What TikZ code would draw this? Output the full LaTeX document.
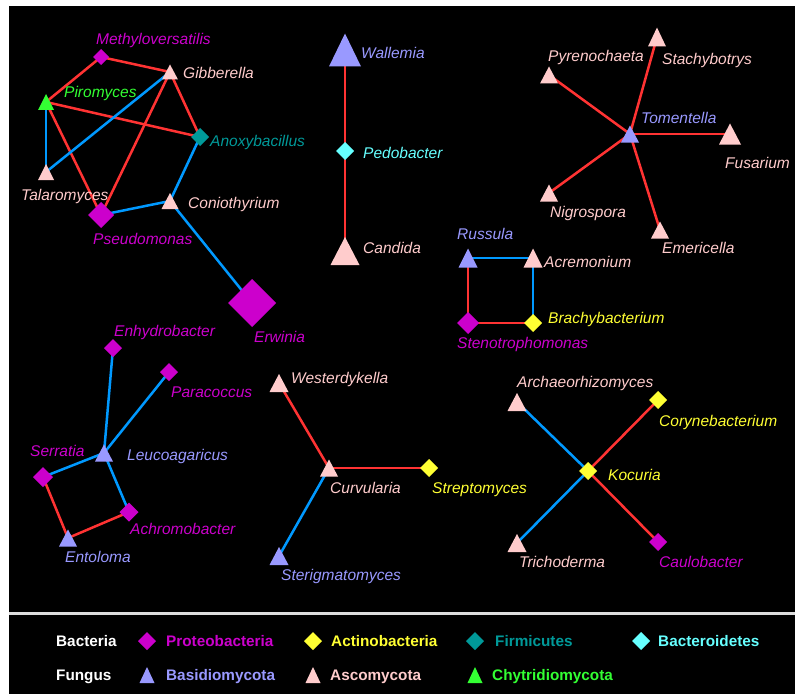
\documentclass[tikz,border=0pt]{standalone}
\usepackage{fontspec}
\setmainfont{Liberation Sans}
\usetikzlibrary{shapes.geometric}
\pgfdeclarelayer{back}
\pgfdeclarelayer{edges}
\pgfsetlayers{back,edges,main}
\definecolor{proteo}{HTML}{CC00CC}
\definecolor{actino}{HTML}{FFFF33}
\definecolor{firmi}{HTML}{009999}
\definecolor{bactero}{HTML}{66FFFF}
\definecolor{basidio}{HTML}{9999FF}
\definecolor{asco}{HTML}{FFCCCC}
\definecolor{chytri}{HTML}{33FF33}
\definecolor{posedge}{HTML}{FF3333}
\definecolor{negedge}{HTML}{0099FF}
\definecolor{sepline}{HTML}{DDDDDD}
\tikzset{
  dia/.style 2 args={diamond, aspect=1, fill=#2, draw=none, inner sep=0pt, outer sep=0pt,
     minimum width=#1*2bp, minimum height=#1*2bp},
  tri/.style n args={3}{rectangle, draw=none, inner sep=0pt, outer sep=0pt,
     minimum width=#1 bp, minimum height=#2 bp,
     path picture={\fill[#3] (path picture bounding box.south west) -- (path picture bounding box.south east) -- (path picture bounding box.north) -- cycle;}},
  lab/.style={anchor=base west, inner sep=0pt, text=#1,
     font=\fontsize{15.5bp}{18bp}\selectfont\itshape},
  leg/.style={anchor=base west, inner sep=0pt, text=#1,
     font=\fontsize{15.3bp}{18bp}\selectfont\bfseries},
  posline/.style={draw=posedge, line width=2.5bp},
  negline/.style={draw=negedge, line width=2.5bp},
}
\begin{document}
\begin{tikzpicture}[x=1bp,y=-1bp]
\begin{pgfonlayer}{back}
\fill[white] (0,0) rectangle (795,694);
\fill[black] (9,6) rectangle (795,694);
\fill[sepline] (9,612) rectangle (795,615);
\end{pgfonlayer}
\useasboundingbox (0,0) rectangle (795,694);

% ---------- top-left cluster ----------
\node[dia={8}{proteo}] (methy) at (101,57) {};
\node[tri={16}{15}{asco}] (gibb) at (170,72) {};
\node[tri={16}{16}{chytri}] (piro) at (46,102) {};
\node[dia={9}{firmi}] (anoxy) at (200,137) {};
\node[tri={16}{16}{asco}] (talaro) at (46,172) {};
\node[tri={17}{16}{asco}] (conio) at (170,201) {};
\node[dia={13}{proteo}] (pseudo) at (101,215) {};
\node[dia={24}{proteo}] (erwin) at (252,303) {};

\node[lab=proteo] (methy-l) at (96,44.5) {Methyloversatilis};
\node[lab=asco] (gibb-l) at (183,78.5) {Gibberella};
\node[lab=chytri] (piro-l) at (64,97.5) {Piromyces};
\node[lab=firmi] (anoxy-l) at (210,146.5) {Anoxybacillus};
\node[lab=asco] (talaro-l) at (21,200.5) {Talaromyces};
\node[lab=asco] (conio-l) at (188,208.5) {Coniothyrium};
\node[lab=proteo] (pseudo-l) at (93,244.5) {Pseudomonas};
\node[lab=proteo] (erwin-l) at (254,342.5) {Erwinia};

% ---------- top-middle ----------
\node[tri={32}{33}{basidio}] (wall) at (345,50) {};
\node[dia={9}{bactero}] (pedo) at (345,151) {};
\node[tri={29}{28}{asco}] (cand) at (345,251) {};
\node[lab=basidio] (wall-l) at (361,58.5) {Wallemia};
\node[lab=bactero] (pedo-l) at (363,158.5) {Pedobacter};
\node[lab=asco] (cand-l) at (363,253.5) {Candida};

% ---------- top-right star ----------
\node[tri={18}{17}{basidio}] (toment) at (630,134) {};
\node[tri={18}{19}{asco}] (stachy) at (657,37) {};
\node[tri={18}{17}{asco}] (pyreno) at (549,75) {};
\node[tri={22}{21}{asco}] (fusar) at (730,134) {};
\node[tri={18}{17}{asco}] (nigro) at (549,193) {};
\node[tri={18}{17}{asco}] (emeri) at (660,230) {};
\node[lab=basidio] (toment-l) at (641,123.5) {Tomentella};
\node[lab=asco] (stachy-l) at (662,64.5) {Stachybotrys};
\node[lab=asco] (pyreno-l) at (548,61.5) {Pyrenochaeta};
\node[lab=asco] (fusar-l) at (725,168.5) {Fusarium};
\node[lab=asco] (nigro-l) at (550,217.5) {Nigrospora};
\node[lab=asco] (emeri-l) at (662,253.5) {Emericella};

% ---------- middle-right square ----------
\node[tri={19}{19}{basidio}] (russ) at (468,258) {};
\node[tri={19}{19}{asco}] (acrem) at (533,258) {};
\node[dia={11}{proteo}] (steno) at (468,323) {};
\node[dia={9}{actino}] (brachy) at (533,323) {};
\node[lab=basidio] (russ-l) at (457,239.5) {Russula};
\node[lab=asco] (acrem-l) at (544,267.5) {Acremonium};
\node[lab=proteo] (steno-l) at (457,348.5) {Stenotrophomonas};
\node[lab=actino] (brachy-l) at (548,323.5) {Brachybacterium};

% ---------- bottom-left ----------
\node[dia={9}{proteo}] (enhy) at (113,348) {};
\node[dia={9}{proteo}] (parac) at (169,372) {};
\node[tri={18}{17}{basidio}] (leuco) at (104,453) {};
\node[dia={10}{proteo}] (serra) at (43,477) {};
\node[dia={9.5}{proteo}] (achro) at (129,512) {};
\node[tri={18}{17}{basidio}] (entol) at (68,538) {};
\node[lab=proteo] (enhy-l) at (114,336.5) {Enhydrobacter};
\node[lab=proteo] (parac-l) at (171,397.5) {Paracoccus};
\node[lab=basidio] (leuco-l) at (127,460.5) {Leucoagaricus};
\node[lab=proteo] (serra-l) at (30,456.5) {Serratia};
\node[lab=proteo] (achro-l) at (130,534.5) {Achromobacter};
\node[lab=basidio] (entol-l) at (65,562.5) {Entoloma};

% ---------- bottom-middle ----------
\node[tri={19}{18}{asco}] (weste) at (279,383) {};
\node[tri={18}{17}{asco}] (curvu) at (329,468) {};
\node[dia={9}{actino}] (strep) at (429,468) {};
\node[tri={19}{18}{basidio}] (sterig) at (279,556) {};
\node[lab=asco] (weste-l) at (291,383.5) {Westerdykella};
\node[lab=asco] (curvu-l) at (330,493.5) {Curvularia};
\node[lab=actino] (strep-l) at (432,493.5) {Streptomyces};
\node[lab=basidio] (sterig-l) at (281,580.5) {Sterigmatomyces};

% ---------- bottom-right ----------
\node[dia={9}{actino}] (kocu) at (588,471) {};
\node[tri={19}{18}{asco}] (archae) at (517,402) {};
\node[dia={9}{actino}] (coryne) at (658,400) {};
\node[tri={19}{18}{asco}] (tricho) at (517,543) {};
\node[dia={9}{proteo}] (caulo) at (658,542) {};
\node[lab=asco] (archae-l) at (517,387.5) {Archaeorhizomyces};
\node[lab=actino] (coryne-l) at (659,426.5) {Corynebacterium};
\node[lab=actino] (kocu-l) at (608,480.5) {Kocuria};
\node[lab=asco] (tricho-l) at (519,567.5) {Trichoderma};
\node[lab=proteo] (caulo-l) at (659,567.5) {Caulobacter};

% ---------- edges ----------
\begin{pgfonlayer}{edges}
\draw[posline] (methy.center) -- (gibb.center);
\draw[posline] (methy.center) -- (piro.center);
\draw[posline] (piro.center) -- (anoxy.center);
\draw[negline] (piro.center) -- (talaro.center);
\draw[posline] (piro.center) -- (pseudo.center);
\draw[negline] (gibb.center) -- (talaro.center);
\draw[posline] (gibb.center) -- (pseudo.center);
\draw[posline] (gibb.center) -- (anoxy.center);
\draw[negline] (anoxy.center) -- (conio.center);
\draw[negline] (conio.center) -- (pseudo.center);
\draw[negline] (conio.center) -- (erwin.center);

\draw[posline] (wall.center) -- (pedo.center);
\draw[posline] (pedo.center) -- (cand.center);

\draw[posline] (toment.center) -- (stachy.center);
\draw[posline] (toment.center) -- (pyreno.center);
\draw[posline] (toment.center) -- (fusar.center);
\draw[posline] (toment.center) -- (nigro.center);
\draw[posline] (toment.center) -- (emeri.center);

\draw[negline] (russ.center) -- (acrem.center);
\draw[negline] (acrem.center) -- (brachy.center);
\draw[posline] (russ.center) -- (steno.center);
\draw[posline] (steno.center) -- (brachy.center);

\draw[negline] (leuco.center) -- (enhy.center);
\draw[negline] (leuco.center) -- (parac.center);
\draw[negline] (leuco.center) -- (serra.center);
\draw[negline] (leuco.center) -- (achro.center);
\draw[posline] (serra.center) -- (entol.center);
\draw[posline] (entol.center) -- (achro.center);

\draw[posline] (weste.center) -- (curvu.center);
\draw[posline] (curvu.center) -- (strep.center);
\draw[negline] (curvu.center) -- (sterig.center);

\draw[negline] (archae.center) -- (kocu.center);
\draw[negline] (kocu.center) -- (tricho.center);
\draw[posline] (kocu.center) -- (coryne.center);
\draw[posline] (kocu.center) -- (caulo.center);
\end{pgfonlayer}

% ---------- legend ----------
\node[leg=white] (lbact) at (56,646.5) {Bacteria};
\node[dia={9}{proteo}] (lproteo) at (147,641) {};
\node[leg=proteo] (lproteo-t) at (166,646.5) {Proteobacteria};
\node[dia={9}{actino}] (lactino) at (313,641) {};
\node[leg=actino] (lactino-t) at (331,646.5) {Actinobacteria};
\node[dia={9}{firmi}] (lfirmi) at (475,641) {};
\node[leg=firmi] (lfirmi-t) at (495,646.5) {Firmicutes};
\node[dia={9}{bactero}] (lbactero) at (641,641) {};
\node[leg=bactero] (lbactero-t) at (658,646.5) {Bacteroidetes};

\node[leg=white] (lfung) at (56,680.5) {Fungus};
\node[tri={15}{16}{basidio}] (lbasid) at (147,675) {};
\node[leg=basidio] (lbasid-t) at (166,680.5) {Basidiomycota};
\node[tri={15}{16}{asco}] (lasco) at (313,675) {};
\node[leg=asco] (lasco-t) at (330,680.5) {Ascomycota};
\node[tri={15}{16}{chytri}] (lchy) at (475,675) {};
\node[leg=chytri] (lchy-t) at (492,680.5) {Chytridiomycota};
\end{tikzpicture}
\end{document}
